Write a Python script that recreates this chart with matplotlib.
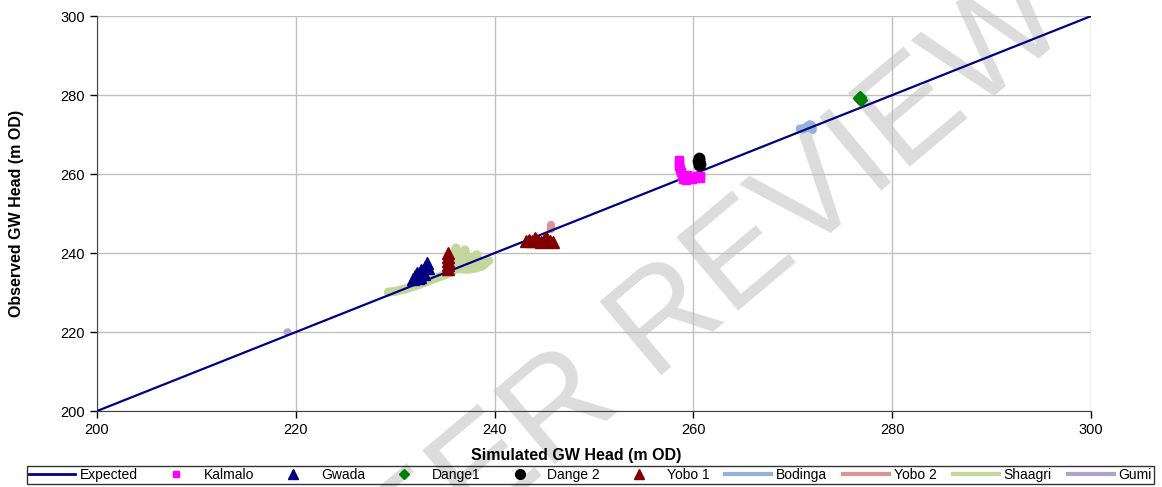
import matplotlib
matplotlib.use("Agg")
import matplotlib.pyplot as plt
from matplotlib.lines import Line2D

plt.rcParams['font.family'] = ['Liberation Sans', 'DejaVu Sans']

# observed vs simulated heads (m OD) for each borehole
expected_x = [200, 300]
expected_y = [200, 300]

kalmalo_x = [258.5, 258.5, 258.5, 258.6, 258.7, 258.8, 258.9, 259.2, 259.5, 259.8, 260.1, 260.4, 260.7, 260.7, 259.3, 259.9]
kalmalo_y = [263.6, 262.8, 262.0, 261.2, 260.4, 259.6, 258.8, 258.6, 259.0, 259.3, 259.2, 259.4, 259.6, 258.9, 259.8, 258.8]

gwada_x = [231.8, 232.0, 232.2, 232.4, 232.6, 232.8, 233.0, 233.2, 232.3, 232.9, 233.3, 232.5]
gwada_y = [233.5, 234.2, 235.0, 234.4, 235.8, 235.2, 236.5, 237.4, 233.7, 234.8, 236.1, 233.9]

dange1_x = [276.8, 276.8, 276.9, 276.7]
dange1_y = [279.4, 279.0, 278.7, 279.2]

dange2_x = [260.6, 260.6, 260.6, 260.7, 260.5, 260.6]
dange2_y = [264.0, 263.5, 263.0, 262.6, 263.2, 262.4]

yobo1_x = [235.3, 235.3, 235.3, 235.3, 235.3,
           243.2, 243.5, 243.8, 244.1, 244.4, 244.7, 245.0, 245.3, 245.6, 245.9, 244.2, 245.2]
yobo1_y = [236.0, 237.0, 238.0, 239.0, 240.0,
           243.0, 243.4, 243.0, 243.7, 243.1, 242.9, 243.2, 243.6, 243.0, 242.9, 243.3, 243.8]

bodinga_x = [270.7, 271.2, 271.6, 271.9, 272.0, 271.7, 271.3, 271.0]
bodinga_y = [271.5, 271.6, 271.8, 272.4, 271.2, 272.6, 271.9, 271.3]

yobo2_x = [245.7, 245.7]
yobo2_y = [247.2, 246.0]

shaagri_x = [229.3, 230.0, 231.0, 232.0, 233.0, 234.0, 235.0, 235.8, 236.0, 236.1, 236.4,
             236.8, 237.0, 237.2, 237.6, 238.0, 238.2, 238.4, 238.8, 239.2, 239.4, 238.6,
             237.4, 236.3, 236.6, 237.9, 239.0, 238.1, 236.9]
shaagri_y = [230.1, 230.3, 230.9, 231.7, 232.6, 233.6, 234.5, 235.4, 237.5, 241.3, 238.2,
             236.5, 240.8, 237.3, 236.4, 237.2, 239.6, 237.0, 236.8, 237.9, 238.1, 236.6,
             235.9, 236.0, 238.8, 238.5, 237.3, 236.2, 237.8]

gumi_x = [219.1, 219.2]
gumi_y = [220.0, 220.1]

fig = plt.figure(figsize=(11.62, 4.87), dpi=100)
ax = fig.add_axes([0.0835, 0.156, 0.8555, 0.811])
ax.set_facecolor('none')

# watermark sits behind everything
fig.text(0.585, 0.36, 'PEER REVIEW', fontsize=100, color='#dcdcdc',
         rotation=40, ha='center', va='center', zorder=-5)

ax.plot(expected_x, expected_y, color='#000080', lw=1.6, zorder=3)
ax.plot(shaagri_x, shaagri_y, color='#c3d69b', lw=6.5, solid_capstyle='round',
        solid_joinstyle='round', zorder=2)
ax.plot(gumi_x, gumi_y, color='#b3a2c7', lw=5, solid_capstyle='round', zorder=2)
ax.plot(bodinga_x, bodinga_y, color='#95b3d7', lw=6, solid_capstyle='round',
        solid_joinstyle='round', zorder=2)
ax.plot(yobo2_x, yobo2_y, color='#d99694', lw=6, solid_capstyle='round', zorder=2)
ax.plot(kalmalo_x, kalmalo_y, 's', color='#ff00ff', ms=5.5, zorder=4)
ax.plot(gwada_x, gwada_y, '^', color='#000080', ms=8.5, zorder=4)
ax.plot(dange1_x, dange1_y, 'D', color='#008000', ms=6.5, zorder=4)
ax.plot(dange2_x, dange2_y, 'o', color='black', ms=7.5, zorder=4)
ax.plot(yobo1_x, yobo1_y, '^', color='#800000', ms=8.5, zorder=4)

ax.set_xlim(200, 300)
ax.set_ylim(200, 300)
ax.set_xticks(range(200, 301, 20))
ax.set_yticks(range(200, 301, 20))
ax.grid(True, color='#c0c0c0', lw=1)
ax.set_axisbelow(True)
for s in ['top', 'right']:
    ax.spines[s].set_visible(False)
for s in ['left', 'bottom']:
    ax.spines[s].set_color('#404040')
ax.tick_params(direction='out', length=5, labelsize=10.5, colors='black', width=1)

ax.set_xlabel('Simulated GW Head (m OD)', fontsize=11.5, fontweight='bold')
ax.set_ylabel('Observed GW Head (m OD)', fontsize=11.5, fontweight='bold')
ax.xaxis.set_label_coords(0.482, -0.094)
ax.yaxis.set_label_coords(-0.073, 0.5)

handles = [
    Line2D([], [], color='#000080', lw=2),
    Line2D([], [], color='#ff00ff', marker='s', ls='none', ms=5),
    Line2D([], [], color='#000080', marker='^', ls='none', ms=7),
    Line2D([], [], color='#008000', marker='D', ls='none', ms=5),
    Line2D([], [], color='black', marker='o', ls='none', ms=7),
    Line2D([], [], color='#800000', marker='^', ls='none', ms=7),
    Line2D([], [], color='#95b3d7', lw=3),
    Line2D([], [], color='#d99694', lw=3),
    Line2D([], [], color='#c3d69b', lw=3),
    Line2D([], [], color='#b3a2c7', lw=3),
]
labels = ['Expected', 'Kalmalo', 'Gwada', 'Dange1', 'Dange 2', 'Yobo 1',
          'Bodinga', 'Yobo 2', 'Shaagri', 'Gumi']
leg = fig.legend(handles, labels, loc='lower left', ncol=10, mode='expand',
                 bbox_to_anchor=(0.023, 0.006, 0.97, 0.037), fontsize=10,
                 frameon=True, fancybox=False, handlelength=3.3, handletextpad=0.35,
                 columnspacing=0.3, borderpad=0.15, borderaxespad=0)
leg.get_frame().set_edgecolor('black')
leg.get_frame().set_facecolor('none')
leg.get_frame().set_linewidth(1)

fig.savefig('out.png', dpi=100)
